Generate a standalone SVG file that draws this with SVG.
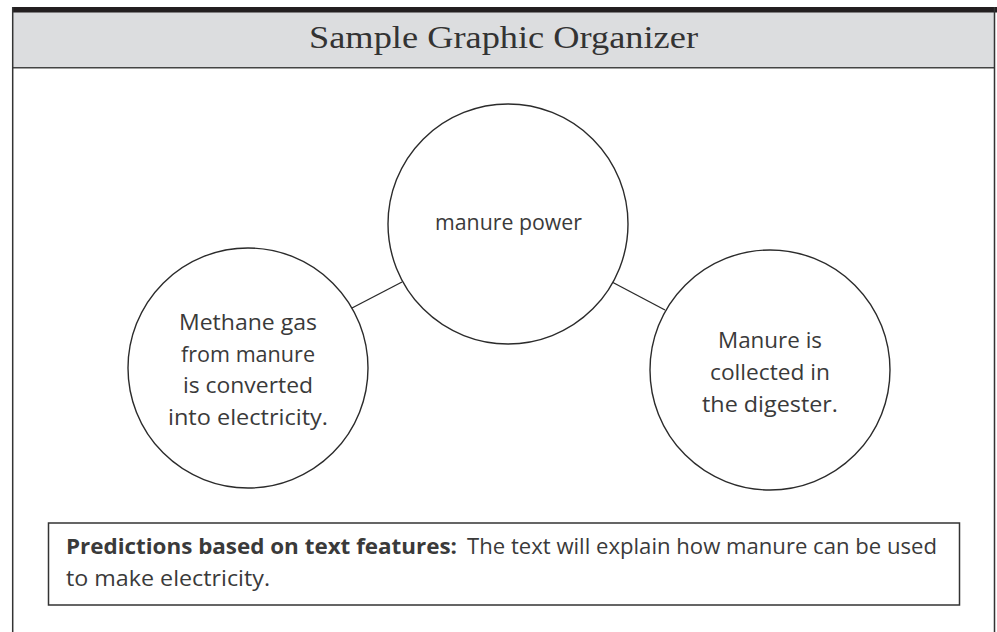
<svg xmlns="http://www.w3.org/2000/svg" width="997" height="632" viewBox="0 0 997 632">
<style>
.frame{fill:none;stroke:#333;stroke-width:1.5}
.node{fill:#fff;stroke:#2b2b2b;stroke-width:1.4}
.conn{stroke:#2b2b2b;stroke-width:1.4;fill:none}
.hand{font-family:"Open Sans","Liberation Sans",sans-serif;font-size:21px;fill:#3a3a3a}
.ctr{text-anchor:middle}
.title{font-family:"Liberation Serif",serif;font-size:31px;fill:#333;text-anchor:middle}
</style>
<rect x="0" y="0" width="997" height="632" fill="#fff"/>
<g id="header">
<rect x="12" y="12" width="983" height="56" fill="#dcdddf"/>
<rect x="12" y="7" width="985" height="5.5" fill="#231f20"/>
<line x1="12" y1="67.8" x2="995" y2="67.8" stroke="#444" stroke-width="1.6"/>
<text class="title" x="503.5" y="48" textLength="389" lengthAdjust="spacingAndGlyphs">Sample Graphic Organizer</text>
</g>
<g id="frame">
<line x1="12.7" y1="7" x2="12.7" y2="632" stroke="#333" stroke-width="1.5"/>
<line x1="994.5" y1="7" x2="994.5" y2="632" stroke="#333" stroke-width="1.5"/>
</g>
<g id="connectors">
<line class="conn" x1="352" y1="308" x2="402" y2="282"/>
<line class="conn" x1="612" y1="282" x2="665" y2="310"/>
</g>
<g id="center-node">
<circle class="node" cx="508" cy="224" r="120"/>
<text class="hand ctr" x="508.5" y="230" textLength="147" lengthAdjust="spacingAndGlyphs">manure power</text>
</g>
<g id="left-node">
<circle class="node" cx="248" cy="368" r="120"/>
<text class="hand ctr" x="248" y="330" textLength="138" lengthAdjust="spacingAndGlyphs">Methane gas</text>
<text class="hand ctr" x="248" y="362" textLength="134" lengthAdjust="spacingAndGlyphs">from manure</text>
<text class="hand ctr" x="248" y="393" textLength="130" lengthAdjust="spacingAndGlyphs">is converted</text>
<text class="hand ctr" x="248" y="425" textLength="160" lengthAdjust="spacingAndGlyphs">into electricity.</text>
</g>
<g id="right-node">
<circle class="node" cx="770" cy="370" r="120"/>
<text class="hand ctr" x="770" y="348" textLength="104" lengthAdjust="spacingAndGlyphs">Manure is</text>
<text class="hand ctr" x="770" y="380" textLength="120" lengthAdjust="spacingAndGlyphs">collected in</text>
<text class="hand ctr" x="770" y="412" textLength="136" lengthAdjust="spacingAndGlyphs">the digester.</text>
</g>
<g id="prediction-box">
<rect x="48.5" y="523" width="911" height="82" fill="#fff" stroke="#333" stroke-width="1.5"/>
<text class="hand" x="66" y="554" font-weight="bold" textLength="391" lengthAdjust="spacingAndGlyphs">Predictions based on text features:</text>
<text class="hand" x="467" y="554" textLength="470" lengthAdjust="spacingAndGlyphs">The text will explain how manure can be used</text>
<text class="hand" x="66" y="586" textLength="204" lengthAdjust="spacingAndGlyphs">to make electricity.</text>
</g>
</svg>
